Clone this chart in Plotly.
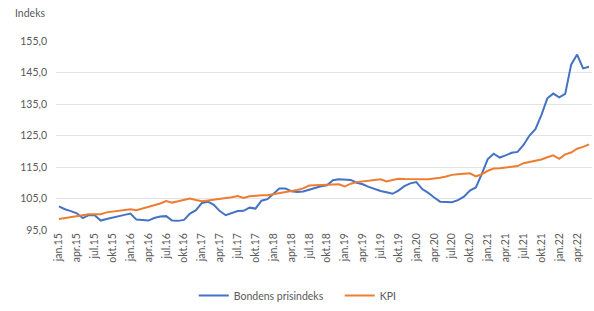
import plotly.graph_objects as go

months = ["jan", "feb", "mar", "apr", "mai", "jun", "jul", "aug", "sep", "okt", "nov", "des"]
years = ["15", "16", "17", "18", "19", "20", "21", "22"]
categories = [f"{m}.{y}" for y in years for m in months][:90]  # jan.15 .. jun.22

tick_labels = ["jan.15", "apr.15", "jul.15", "okt.15", "jan.16", "apr.16", "jul.16", "okt.16",
               "jan.17", "apr.17", "jul.17", "okt.17", "jan.18", "apr.18", "jul.18", "okt.18",
               "jan.19", "apr.19", "jul.19", "okt.19", "jan.20", "apr.20", "jul.20", "okt.20",
               "jan.21", "apr.21", "jul.21", "okt.21", "jan.22", "apr.22"]

bondens = [102.5, 101.6, 101.0, 100.3, 98.8, 99.7, 99.7, 98.0, 98.5, 99.0, 99.4, 99.8,
           100.2, 98.3, 98.2, 98.0, 98.8, 99.3, 99.4, 98.0, 97.9, 98.2, 100.2, 101.3,
           103.6, 104.0, 103.0, 101.0, 99.7, 100.3, 101.0, 101.1, 102.1, 101.8, 104.3, 104.8,
           106.5, 108.2, 108.2, 107.3, 107.1, 107.2, 107.8, 108.4, 108.9, 109.2, 110.8, 111.1,
           111.0, 110.9, 110.0, 109.5, 108.7, 108.0, 107.4, 107.0, 106.5, 107.5, 108.9, 109.8,
           110.2, 108.0, 106.8, 105.3, 104.0, 103.9, 103.8, 104.5, 105.6, 107.5, 108.5, 112.8,
           117.5, 119.2, 118.0, 118.7, 119.5, 119.8, 122.0, 125.0, 127.0, 131.5, 136.8, 138.3,
           137.1, 138.2, 147.5, 150.7, 146.3, 146.8]

kpi = [98.5, 98.8, 99.1, 99.4, 99.7, 100.0, 100.0, 100.0, 100.6, 100.9, 101.1, 101.4,
       101.6, 101.3, 101.8, 102.2, 102.8, 103.4, 104.2, 103.7, 104.1, 104.6, 105.0, 104.5,
       104.1, 104.4, 104.6, 104.9, 105.2, 105.4, 105.8, 105.2, 105.7, 105.9, 106.0, 106.0,
       106.4, 106.8, 107.1, 107.4, 107.7, 108.2, 109.1, 109.2, 109.2, 109.3, 109.4, 109.5,
       108.8, 109.7, 110.2, 110.5, 110.7, 110.9, 111.1, 110.4, 110.9, 111.3, 111.2, 111.1,
       111.1, 111.1, 111.1, 111.3, 111.6, 112.0, 112.5, 112.7, 112.9, 113.0, 112.0, 112.7,
       113.8, 114.5, 114.6, 114.8, 115.0, 115.3, 116.2, 116.6, 117.0, 117.4, 118.1, 118.7,
       117.6, 119.0, 119.6, 120.8, 121.4, 122.2]

y_ticks = [95, 105, 115, 125, 135, 145, 155]

font_family = "Lato, 'Open Sans', sans-serif"
grey = "#595959"

fig = go.Figure()
fig.add_trace(go.Scatter(x=categories, y=bondens, mode="lines", name="Bondens prisindeks",
                         line=dict(color="#4472C4", width=2)))
fig.add_trace(go.Scatter(x=categories, y=kpi, mode="lines", name="KPI",
                         line=dict(color="#ED7D31", width=2)))

fig.update_layout(
    width=594, height=311,
    margin=dict(l=56, r=2, t=41, b=80),
    paper_bgcolor="white", plot_bgcolor="white",
    separators=", ",
    font=dict(family=font_family, size=10.5, color=grey),
    showlegend=True,
    legend=dict(orientation="h", x=0.257, xanchor="left", y=-0.34, yanchor="middle",
                font=dict(size=10.5, color=grey), itemwidth=30, tracegroupgap=0,
                entrywidth=101, entrywidthmode="pixels"),
    xaxis=dict(
        type="category", categoryorder="array", categoryarray=categories,
        range=[-0.5, len(categories) - 0.5],
        tickmode="array", tickvals=tick_labels, ticktext=tick_labels,
        tickangle=-90, showgrid=False, showline=False, zeroline=False,
        tickfont=dict(size=10.5, color=grey),
    ),
    yaxis=dict(
        range=[95, 155], tickvals=y_ticks, tickformat=".1f",
        showgrid=True, gridcolor="#e3e3e3", gridwidth=1, zeroline=False,
        showline=False, ticklabelstandoff=8,
        tickfont=dict(size=10.5, color=grey),
    ),
    annotations=[dict(text="Indeks", xref="paper", yref="paper", x=-0.08, y=1.147,
                      xanchor="left", yanchor="middle", showarrow=False,
                      font=dict(size=10.5, color=grey))],
)

fig.write_html("out.html", config={"displayModeBar": False},
               post_script="document.body.style.margin='0px';document.body.style.overflow='hidden';")
